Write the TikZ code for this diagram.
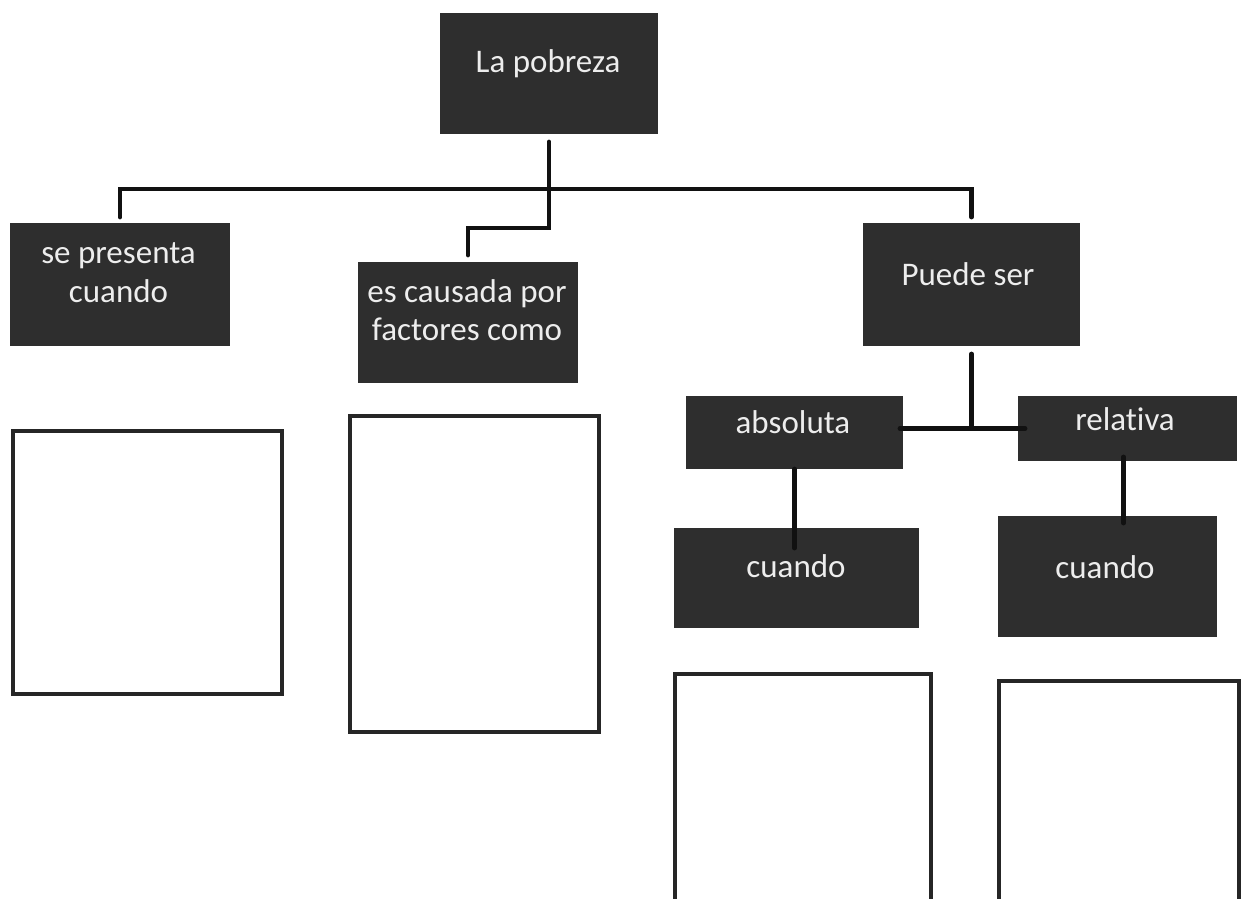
\documentclass[tikz,border=0pt]{standalone}
\usepackage{fontspec}
\setmainfont{Carlito}[Ligatures={NoCommon}]
\usetikzlibrary{calc}
\definecolor{boxfill}{HTML}{2E2E2E}
\definecolor{boxtext}{HTML}{EDEDED}
\definecolor{connect}{HTML}{111111}
\definecolor{frame}{HTML}{262626}
\tikzset{
  darkbox/.style={rectangle, fill=boxfill, draw=none, inner sep=0pt, outer sep=0pt},
  emptybox/.style={rectangle, fill=white, draw=frame, line width=4pt, inner sep=0pt, outer sep=0pt},
  label text/.style={text=boxtext, inner sep=0pt, outer sep=0pt, anchor=base, align=center,
    font=\fontsize{33pt}{39pt}\selectfont},
  conn/.style={draw=connect, line width=4.8pt, line cap=round}
}
\begin{document}
\begin{tikzpicture}[x=1pt,y=-1pt]
\useasboundingbox (0,0) rectangle (1243,898);
\fill[white] (0,0) rectangle (1243,898);

% dark boxes
\node[darkbox, minimum width=218pt, minimum height=121pt] (top) at (549,73.5) {};
\node[darkbox, minimum width=220pt, minimum height=123pt] (pres) at (120,284.5) {};
\node[darkbox, minimum width=220pt, minimum height=121pt] (causa) at (468,322.5) {};
\node[darkbox, minimum width=217pt, minimum height=123pt] (puede) at (971.5,284.5) {};
\node[darkbox, minimum width=217pt, minimum height=73pt] (abs) at (794.5,432.5) {};
\node[darkbox, minimum width=219pt, minimum height=65pt] (rel) at (1127.5,428.5) {};
\node[darkbox, minimum width=245pt, minimum height=100pt] (cu1) at (796.5,578) {};
\node[darkbox, minimum width=219pt, minimum height=121pt] (cu2) at (1107.5,576.5) {};

% texts
\node[label text] (toptxt) at (548,72) {La pobreza};
\node[label text] (prestxt1) at (118.5,263) {se presenta};
\node[label text] (prestxt2) at (118.5,302) {cuando};
\node[label text] (causatxt1) at (467,302) {es causada por};
\node[label text] (causatxt2) at (467,340) {factores como};
\node[label text] (puedetxt) at (968,285) {Puede ser};
\node[label text] (abstxt) at (793,433) {absoluta};
\node[label text] (reltxt) at (1125,430) {relativa};
\node[label text] (cu1txt) at (796,577) {cuando};
\node[label text] (cu2txt) at (1105,578) {cuando};

% empty answer boxes
\node[emptybox, minimum width=269pt, minimum height=263pt] (ansA) at (147.5,562.5) {};
\node[emptybox, minimum width=249pt, minimum height=316pt] (ansB) at (474.5,574) {};
\node[emptybox, minimum width=256pt, minimum height=230pt] (ansC) at (803,789) {};
\node[emptybox, minimum width=240pt, minimum height=223pt] (ansD) at (1119,792.5) {};

% connectors
\draw[conn] ($(top.south)+(0,8)$) |- ($(causa.north)+(0,-34)$) -- ($(causa.north)+(0,-7)$);
\draw[conn] ($(pres.north)+(0,-6)$) |- ($(puede.north)+(0,-34)$) -- ($(puede.north)+(0,-6)$);
\draw[conn] ($(puede.south)+(0,8)$) -- (puede.south |- rel.west);
\draw[conn] ($(abs.east |- rel.west)+(-3,0)$) -- ($(rel.west)+(7,0)$);
\draw[conn] (abs.south) -- ($(cu1.north -| abs.south)+(0,20)$);
\draw[conn] ($(rel.south)+(-4,-4)$) -- ($(cu2.north -| rel.south)+(-4,7)$);
\end{tikzpicture}
\end{document}
